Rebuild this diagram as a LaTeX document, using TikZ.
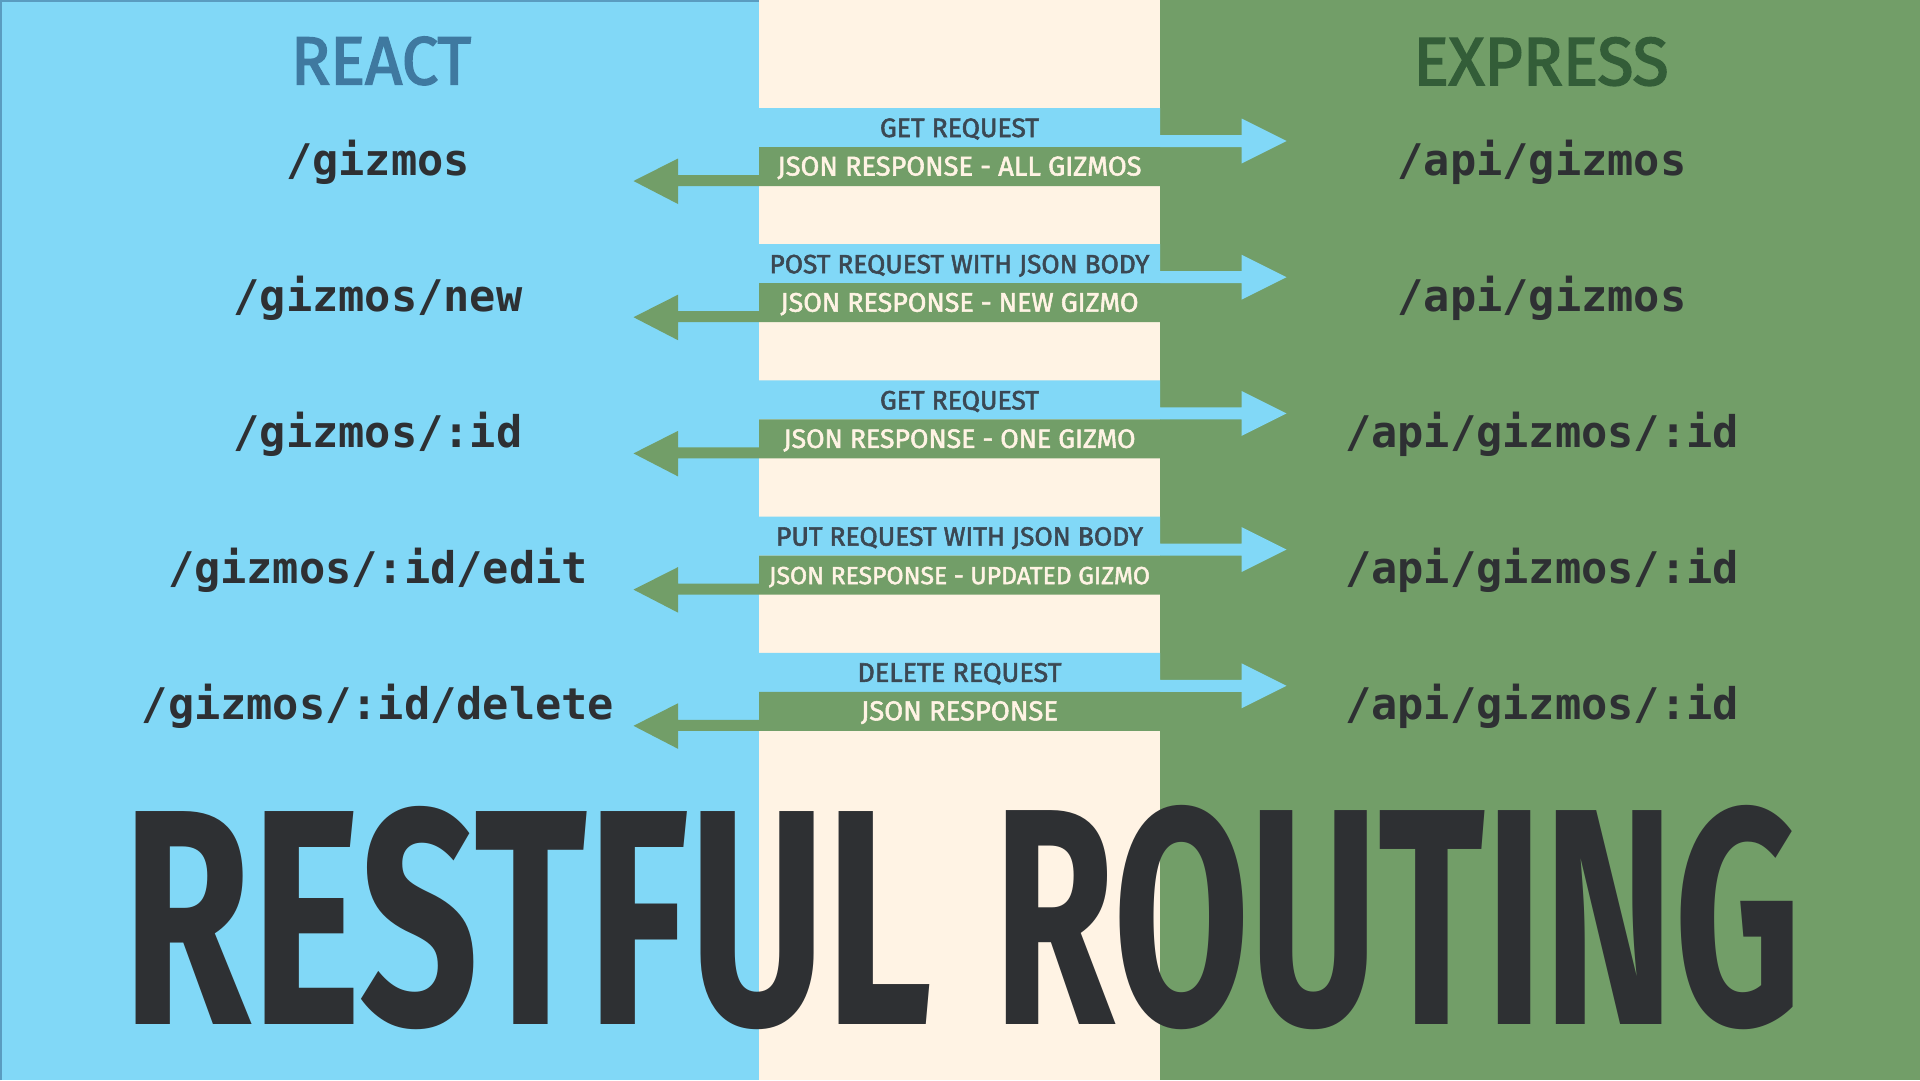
\documentclass[tikz,border=0pt]{standalone}
\usepackage{graphicx}
\usepackage{fontspec}
\setmainfont{Fira Sans}
\newfontfamily\gzmono{DejaVu Sans Mono}
\newfontfamily\labfam[FakeBold=2]{Fira Sans}
\newfontfamily\headfam[FakeBold=2.5]{Fira Sans}
\definecolor{skyb}{HTML}{81D8F7}
\definecolor{cream}{HTML}{FFF3E4}
\definecolor{leaf}{HTML}{729E68}
\definecolor{ink}{HTML}{2E3033}
\definecolor{reactc}{HTML}{3F79A0}
\definecolor{expc}{HTML}{335D38}
\definecolor{reqc}{HTML}{3B4853}
\definecolor{edgeb}{HTML}{5A9CC0}
\newcommand{\routefont}{\gzmono\bfseries\fontsize{43.6}{50}\selectfont}
\newcommand{\labfont}{\labfam\fontsize{27}{30}\selectfont}
\tikzset{
  route/.style={font=\routefont, text=ink, inner sep=0pt, anchor=base},
  reqlab/.style={font=\labfont, text=reqc, inner sep=0pt, anchor=base},
  resplab/.style={font=\labfont, text=cream, inner sep=0pt, anchor=base},
  reqarrow/.style={fill=skyb, draw=none},
  resparrow/.style={fill=leaf, draw=none},
  heading/.style={inner sep=0pt, anchor=base, font=\headfam},
  bigtitle/.style={inner sep=0pt, anchor=base west, text=ink, font=\bfseries}
}
% #1 index, #2 top, #3 left route, #4 right route, #5 request, #6 its width,
% #7 response, #8 its width
\newcommand{\gizmorow}[8]{%
  \fill[reqarrow] (759,#2) -- (1160,#2) -- (1160,#2+27) -- (1241.5,#2+27)
    -- (1241.5,#2+10.5) -- (1286.5,#2+33) -- (1241.5,#2+55.5) -- (1241.5,#2+39)
    -- (759,#2+39) -- cycle;
  \fill[resparrow] (1160,#2+39) -- (1160,#2+78) -- (678,#2+78) -- (678,#2+96)
    -- (633.5,#2+73) -- (678,#2+50.5) -- (678,#2+67) -- (759,#2+67)
    -- (759,#2+39) -- cycle;
  \node[reqlab] (req#1) at (959.5,#2+29) {\resizebox{#6pt}{!}{#5}};
  \node[resplab] (resp#1) at (959.5,#2+67.5) {\resizebox{#8pt}{!}{#7}};
  \node[route] (client#1) at (378,#2+67) {#3};
  \node[route] (server#1) at (1542,#2+67) {#4};
}
\begin{document}
\begin{tikzpicture}[x=1pt,y=-1pt]
\useasboundingbox (0,0) rectangle (1920,1080);
\fill[skyb] (0,0) rectangle (759,1080);
\fill[cream] (759,0) rectangle (1160,1080);
\fill[leaf] (1160,0) rectangle (1920,1080);
\draw[edgeb, line width=1.5pt] (0.75,1080) -- (0.75,0.75) -- (759,0.75);

\node[heading, text=reactc] (react) at (381,84.3)
  {\resizebox{180pt}{47.5pt}{REACT}};
\node[heading, text=expc] (express) at (1541,85)
  {\resizebox{255pt}{47.5pt}{EXPRESS}};

\gizmorow{1}{108}{/gizmos}{/api/gizmos}{GET REQUEST}{159}{JSON RESPONSE - ALL GIZMOS}{364}
\gizmorow{2}{244.2}{/gizmos/new}{/api/gizmos}{POST REQUEST WITH JSON BODY}{380}{JSON RESPONSE - NEW GIZMO}{358}
\gizmorow{3}{380.4}{/gizmos/:id}{/api/gizmos/:id}{GET REQUEST}{159}{JSON RESPONSE - ONE GIZMO}{352}
\gizmorow{4}{516.6}{/gizmos/:id/edit}{/api/gizmos/:id}{PUT REQUEST WITH JSON BODY}{367}{JSON RESPONSE - UPDATED GIZMO}{381}
\gizmorow{5}{652.8}{/gizmos/:id/delete}{/api/gizmos/:id}{DELETE REQUEST}{204}{JSON RESPONSE}{197}

\node[bigtitle] (restful) at (122,1024) {\resizebox{810pt}{218pt}{RESTFUL}};
\node[bigtitle] (routing) at (993.7,1024) {\resizebox{806.5pt}{219pt}{ROUTING}};
\end{tikzpicture}
\end{document}
